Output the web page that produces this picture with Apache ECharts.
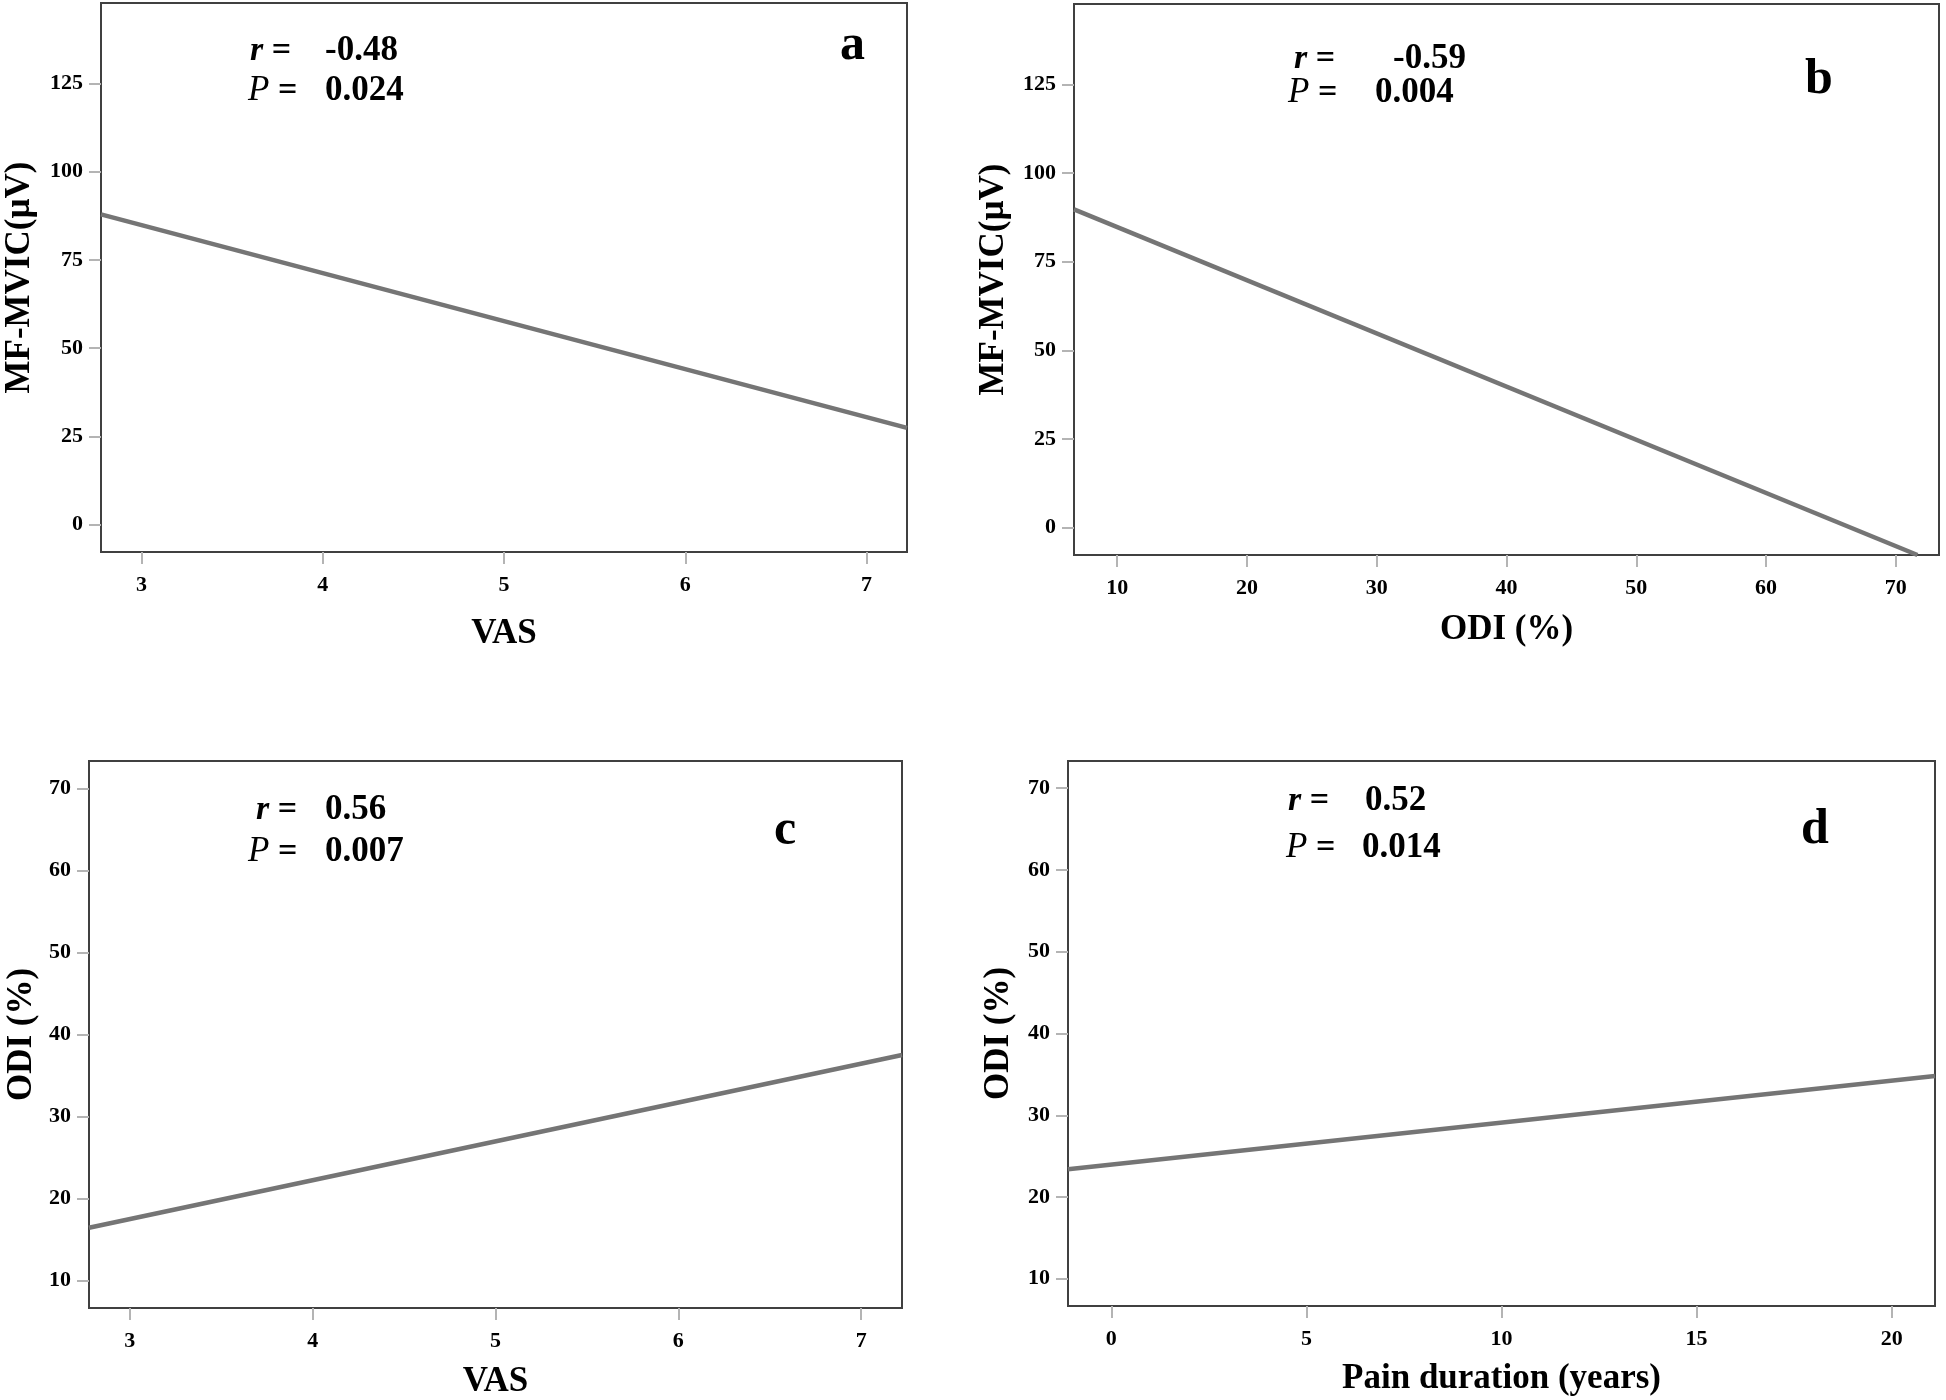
<!DOCTYPE html>
<html>
<head>
<meta charset="utf-8">
<script src="https://cdn.jsdelivr.net/npm/echarts@6/dist/echarts.min.js"></script>
<style>
html,body{margin:0;padding:0;background:#fff;}
#chart{width:1946px;height:1400px;}
</style>
</head>
<body>
<div id="chart"></div>
<script>
// ---- data ----
// fitted regression lines: x endpoints and y endpoints
const panelA_x = [2.777, 7.223];
const panelA_y = [87.9, 27.4];
const panelB_x = [6.67, 71.67];
const panelB_y = [89.8, -7.78];
const panelC_x = [2.777, 7.223];
const panelC_y = [16.45, 37.5];
const panelD_x = [-1.11, 21.11];
const panelD_y = [23.4, 34.8];

// tick labels
const vasTicks = [3, 4, 5, 6, 7];
const odiXTicks = [10, 20, 30, 40, 50, 60, 70];
const durationTicks = [0, 5, 10, 15, 20];
const mvicTicks = [0, 25, 50, 75, 100, 125];
const odiYTicks = [10, 20, 30, 40, 50, 60, 70];

// statistics text
const panelLetters = ['a', 'b', 'c', 'd'];
const rValues = ['-0.48', '-0.59', '0.56', '0.52'];
const pValues = ['0.024', '0.004', '0.007', '0.014'];
const xNames = ['VAS', 'ODI (%)', 'VAS', 'Pain duration (years)'];
const yNames = ['MF-MVIC(\u00b5V)', 'MF-MVIC(\u00b5V)', 'ODI (%)', 'ODI (%)'];

// ---- layout ----
const FONT = '"Liberation Serif", "Times New Roman", serif';
const grids = [
  {left: 101, top: 3, width: 806, height: 549},
  {left: 1074, top: 4, width: 865, height: 551},
  {left: 89, top: 761, width: 813, height: 552},
  {left: 1068, top: 761, width: 867, height: 545}
];
const xRanges = [[2.777, 7.223], [6.67, 73.33], [2.777, 7.223], [-1.11, 21.11]];
const yRanges = [[-7.78, 147.78], [-7.78, 147.78], [6.67, 73.33], [6.67, 73.33]];
const xTickSets = [vasTicks, odiXTicks, vasTicks, durationTicks];
const yTickSets = [mvicTicks, mvicTicks, odiYTicks, odiYTicks];
const xNameGaps = [64, 57, 56, 55];
const yNameGaps = [64, 63, 50, 52];
const lines = [[panelA_x, panelA_y], [panelB_x, panelB_y], [panelC_x, panelC_y], [panelD_x, panelD_y]];

const statLayout = [
  {rx: 250, ry: 51, rvx: 325, px: 248, py: 91, pvx: 325, lx: 840, ly: 46},
  {rx: 1294, ry: 59, rvx: 1393, px: 1288, py: 93, pvx: 1375, lx: 1805, ly: 80},
  {rx: 256, ry: 810, rvx: 325, px: 248, py: 852, pvx: 325, lx: 774, ly: 831},
  {rx: 1288, ry: 801, rvx: 1365, px: 1286, py: 848, pvx: 1362, lx: 1801, ly: 830}
];

const tickLabelStyle = {fontFamily: FONT, fontWeight: 'bold', fontSize: 22, color: '#000'};
const nameStyle = {fontFamily: FONT, fontWeight: 'bold', fontSize: 35, color: '#000'};

const xAxes = [], yAxes = [], series = [], graphics = [];
for (let i = 0; i < 4; i++) {
  xAxes.push({
    gridIndex: i, type: 'value',
    min: xRanges[i][0], max: xRanges[i][1],
    axisLine: {show: false, onZero: false},
    splitLine: {show: false},
    axisTick: {show: true, length: 12, lineStyle: {color: '#b4b4b4', width: 2}, customValues: xTickSets[i]},
    axisLabel: Object.assign({margin: 22, customValues: xTickSets[i]}, tickLabelStyle),
    name: xNames[i], nameLocation: 'middle', nameGap: xNameGaps[i], nameTextStyle: nameStyle
  });
  yAxes.push({
    gridIndex: i, type: 'value',
    min: yRanges[i][0], max: yRanges[i][1],
    axisLine: {show: false, onZero: false},
    splitLine: {show: false},
    axisTick: {show: true, length: 12, lineStyle: {color: '#b4b4b4', width: 2}, customValues: yTickSets[i]},
    axisLabel: Object.assign({margin: 18, customValues: yTickSets[i]}, tickLabelStyle),
    name: yNames[i], nameLocation: 'middle', nameGap: yNameGaps[i], nameTextStyle: nameStyle
  });
  const lx = lines[i][0], ly = lines[i][1];
  series.push({
    type: 'line', xAxisIndex: i, yAxisIndex: i,
    data: lx.map((x, k) => [x, ly[k]]),
    symbol: 'none', clip: true, silent: true,
    lineStyle: {color: '#757575', width: 4.5},
    animation: false
  });
  const s = statLayout[i];
  const eqRich = {
    r: {fontStyle: 'italic', fontWeight: 'bold', fontSize: 34, fontFamily: FONT},
    p: {fontStyle: 'italic', fontWeight: 'normal', fontSize: 35, fontFamily: FONT},
    e: {fontWeight: 'bold', fontSize: 34, fontFamily: FONT}
  };
  graphics.push(
    {type: 'text', x: s.rx, y: s.ry, style: {text: '{r|r}{e| =}', fill: '#000', font: 'bold 34px ' + FONT, verticalAlign: 'middle', align: 'left', rich: eqRich}},
    {type: 'text', x: s.rvx, y: s.ry, style: {text: rValues[i], fill: '#000', font: 'bold 35px ' + FONT, verticalAlign: 'middle', align: 'left'}},
    {type: 'text', x: s.px, y: s.py, style: {text: '{p|P}{e| =}', fill: '#000', font: 'bold 34px ' + FONT, verticalAlign: 'middle', align: 'left', rich: eqRich}},
    {type: 'text', x: s.pvx, y: s.py, style: {text: pValues[i], fill: '#000', font: 'bold 35px ' + FONT, verticalAlign: 'middle', align: 'left'}},
    {type: 'text', x: s.lx, y: s.ly, style: {text: panelLetters[i], fill: '#000', font: 'bold 50px ' + FONT, verticalAlign: 'middle', align: 'left'}}
  );
}

const chart = echarts.init(document.getElementById('chart'), null, {renderer: 'canvas'});
chart.setOption({
  backgroundColor: '#ffffff',
  animation: false,
  grid: grids.map(g => Object.assign({show: true, borderColor: '#404040', borderWidth: 2, backgroundColor: 'transparent', containLabel: false}, g)),
  xAxis: xAxes,
  yAxis: yAxes,
  series: series,
  graphic: graphics
});
</script>
</body>
</html>
